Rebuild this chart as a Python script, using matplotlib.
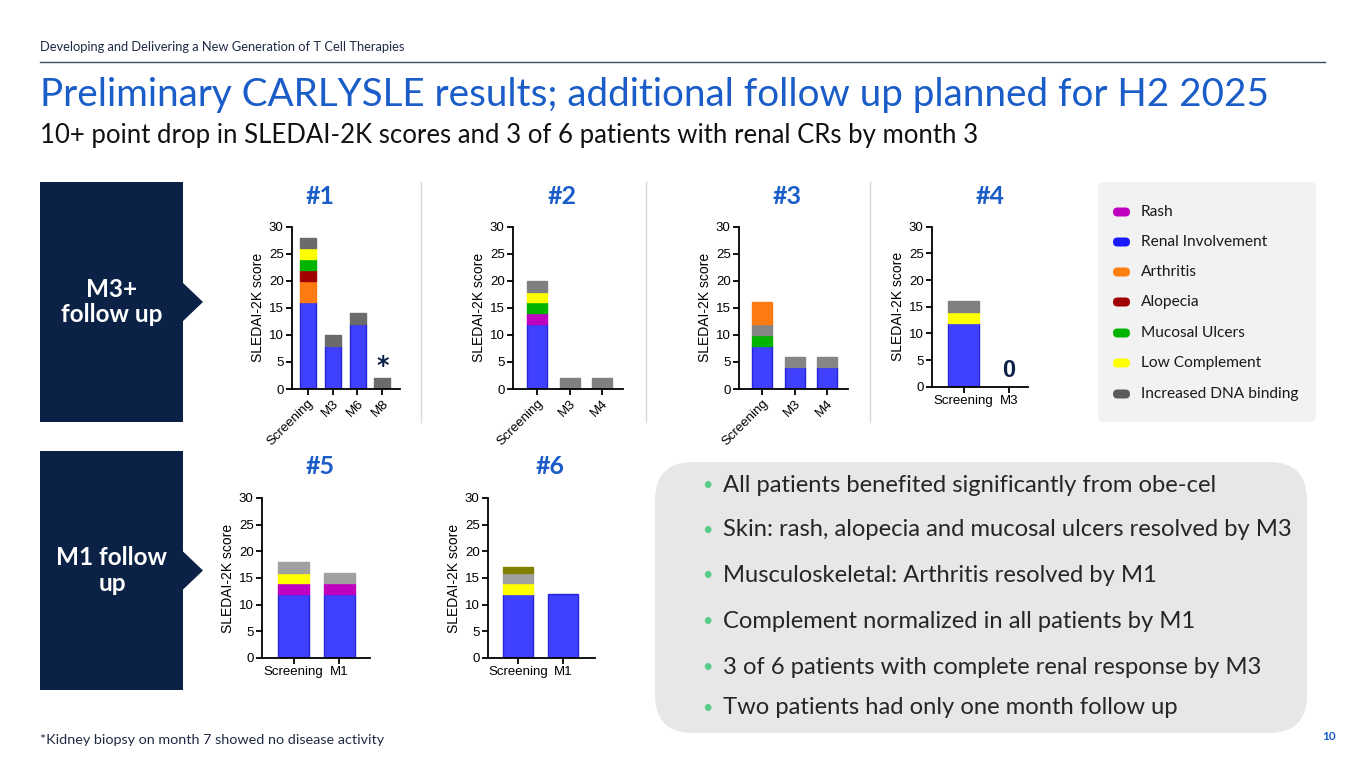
import matplotlib
matplotlib.use("Agg")
import matplotlib.pyplot as plt
from matplotlib.patches import FancyBboxPatch, Rectangle, Polygon

W, H = 1365, 768

# ---- data ----
categories = ["Rash", "Renal Involvement", "Arthritis", "Alopecia",
              "Mucosal Ulcers", "Low Complement", "Increased DNA binding"]
legend_colors = ["#c000c0", "#1a1aff", "#ff7f0e", "#a00000",
                 "#00b400", "#ffff00", "#5a5a5a"]

p1_time = ["Screening", "M3", "M6", "M8"]
p1_stack = [("Renal Involvement", [16, 8, 12, 0]),
            ("Arthritis", [4, 0, 0, 0]),
            ("Alopecia", [2, 0, 0, 0]),
            ("Mucosal Ulcers", [2, 0, 0, 0]),
            ("Low Complement", [2, 0, 0, 0]),
            ("Increased DNA binding", [2, 2, 2, 2])]

p2_time = ["Screening", "M3", "M4"]
p2_stack = [("Renal Involvement", [12, 0, 0]),
            ("Rash", [2, 0, 0]),
            ("Mucosal Ulcers", [2, 0, 0]),
            ("Low Complement", [2, 0, 0]),
            ("Increased DNA binding", [2, 2, 2])]

p3_time = ["Screening", "M3", "M4"]
p3_stack = [("Renal Involvement", [8, 4, 4]),
            ("Mucosal Ulcers", [2, 0, 0]),
            ("Increased DNA binding", [2, 2, 2]),
            ("Arthritis", [4, 0, 0])]

p4_time = ["Screening", "M3"]
p4_stack = [("Renal Involvement", [12, 0]),
            ("Low Complement", [2, 0]),
            ("Increased DNA binding", [2, 0])]

p5_time = ["Screening", "M1"]
p5_stack = [("Renal Involvement", [12, 12]),
            ("Rash", [2, 2]),
            ("Low Complement", [2, 0]),
            ("Increased DNA binding", [2, 2])]

p6_time = ["Screening", "M1"]
p6_stack = [("Renal Involvement", [12, 12]),
            ("Low Complement", [2, 0]),
            ("Increased DNA binding", [2, 0]),
            ("Other", [1, 0])]

bullets = ["All patients benefited significantly from obe-cel",
           "Skin: rash, alopecia and mucosal ulcers resolved by M3",
           "Musculoskeletal: Arthritis resolved by M1",
           "Complement normalized in all patients by M1",
           "3 of 6 patients with complete renal response by M3",
           "Two patients had only one month follow up"]

# ---- styling ----
plt.rcParams['font.family'] = ['Lato', 'DejaVu Sans']
NAVY = "#0b2145"
BLUE = "#1a5cc8"
bar_colors = {"Rash": "#c000c0", "Renal Involvement": "#4040ff",
              "Arthritis": "#ff7a10", "Alopecia": "#a00000",
              "Mucosal Ulcers": "#00b400", "Low Complement": "#ffff00",
              "Other": "#808000"}

fig = plt.figure(figsize=(W / 100, H / 100), dpi=100)
bg = fig.add_axes([0, 0, 1, 1])
bg.set_xlim(0, W)
bg.set_ylim(H, 0)
bg.axis("off")
renderer = fig.canvas.get_renderer()


def fit(t, width):
    bb = t.get_window_extent(renderer=renderer)
    t.set_fontsize(t.get_fontsize() * width / bb.width)
    return t.get_fontsize()


# header
fit(bg.text(40, 47, "Developing and Delivering a New Generation of T Cell Therapies",
            fontsize=10, color="#1f2b45", va="center"), 366)
bg.plot([40, 1325], [62, 62], color="#3b4b60", lw=1)
fit(bg.text(40, 95, "Preliminary CARLYSLE results; additional follow up planned for H2 2025",
            fontsize=28, color=BLUE, va="center"), 1228)
fit(bg.text(40, 135, "10+ point drop in SLEDAI-2K scores and 3 of 6 patients with renal CRs by month 3",
            fontsize=18, color="#111111", va="center"), 932)
fit(bg.text(40, 740, "*Kidney biopsy on month 7 showed no disease activity",
            fontsize=9, color="#1f2b45", va="center"), 345)
bg.text(1329, 737, "10", fontsize=8.5, color=BLUE, fontweight="bold",
        ha="center", va="center")

# navy section boxes with arrow notch
for (y0, y1, label) in [(182, 422, "M3+\nfollow up"), (451, 690, "M1 follow\nup")]:
    bg.add_patch(Rectangle((40, y0), 143, y1 - y0, color=NAVY, lw=0))
    mid = (y0 + y1) / 2
    bg.add_patch(Polygon([(182, mid - 20), (203, mid), (182, mid + 20)],
                         closed=True, color=NAVY, lw=0))
    bg.text(112, mid, label, color="white", fontsize=17.5, fontweight="bold",
            ha="center", va="center", linespacing=1.15)

# separators between top charts
for x in [421, 646, 870]:
    bg.plot([x, x], [182, 422], color="#d9d9d9", lw=1)

# legend panel
bg.add_patch(FancyBboxPatch((1098, 182), 218, 240, boxstyle="round,pad=0,rounding_size=6",
                            color="#f2f2f2", lw=0))
leg_y = [212, 242, 272, 302, 333, 363, 394]
leg_texts = []
for name, col, y in zip(categories, legend_colors, leg_y):
    bg.add_patch(FancyBboxPatch((1113, y - 4.5), 17, 9, boxstyle="round,pad=0,rounding_size=4.5",
                                color=col, lw=0))
    leg_texts.append(bg.text(1141, y, name, fontsize=11, color="#1a1a1a", va="center"))
leg_fs = fit(leg_texts[-1], 158)
for t in leg_texts:
    t.set_fontsize(leg_fs)

# bullets panel
bg.add_patch(FancyBboxPatch((655, 462), 652, 271, boxstyle="round,pad=0,rounding_size=38",
                            color="#e7e7e7", lw=0))
bul_y = [485, 530, 575, 621, 667, 708]
btexts = []
for s, y in zip(bullets, bul_y):
    bg.text(707, y, "\u2022", fontsize=13, color="#55cc88", ha="center", va="center")
    btexts.append(bg.text(723, y, s, fontsize=17, color="#262626", va="center"))
bfs = fit(btexts[1], 567)
for t in btexts:
    t.set_fontsize(bfs)

# patient titles
for s, x, y in [("#1", 320, 197), ("#2", 562, 197), ("#3", 787, 197),
                ("#4", 990, 197), ("#5", 320, 466), ("#6", 550, 466)]:
    bg.text(x, y, s, fontsize=18, fontweight="bold", color=BLUE, ha="center", va="center")


def chart(rect, time, stack, center0, spacing, bar_px, grey, rotate):
    x0, ytop, x1, ybot = rect
    ax = fig.add_axes([x0 / W, 1 - ybot / H, (x1 - x0) / W, (ybot - ytop) / H])
    ax.set_xlim((x0 - center0) / spacing, (x1 - center0) / spacing)
    ax.set_ylim(0, 30)
    xs = list(range(len(time)))
    bottom = [0] * len(time)
    for name, vals in stack:
        col = grey if name == "Increased DNA binding" else bar_colors[name]
        ec = "#2424d8" if name == "Renal Involvement" else col
        keep = [i for i, v in enumerate(vals) if v > 0]
        ax.bar([xs[i] for i in keep], [vals[i] for i in keep],
               bottom=[bottom[i] for i in keep], width=bar_px / spacing,
               color=col, edgecolor=ec, linewidth=1.0)
        bottom = [b + v for b, v in zip(bottom, vals)]
    ax.set_yticks([0, 5, 10, 15, 20, 25, 30])
    ax.set_xticks(xs)
    if rotate:
        ax.set_xticklabels(time, rotation=45, ha="right", rotation_mode="anchor")
    else:
        ax.set_xticklabels(time)
    for sp in ["top", "right"]:
        ax.spines[sp].set_visible(False)
    for sp in ["left", "bottom"]:
        ax.spines[sp].set_linewidth(1.3)
    ax.tick_params(labelsize=9.5, width=1.3, length=4, pad=2)
    for lab in ax.get_xticklabels() + ax.get_yticklabels():
        lab.set_family("Liberation Sans")
    ax.set_ylabel("SLEDAI-2K score", fontsize=10, family="Liberation Sans", labelpad=3)
    ax.patch.set_alpha(0)
    return ax


ax1 = chart((292, 226.7, 400, 389), p1_time, p1_stack, 307.5, 25, 16, "#6b6b6b", True)
ax1.text(3, 4.2, "*", fontsize=17, fontweight="bold", color=NAVY, ha="center", va="center",
         family="DejaVu Sans")
chart((513, 226.7, 623, 389), p2_time, p2_stack, 537, 32.5, 20, "#808080", True)
chart((739, 226.7, 848, 389), p3_time, p3_stack, 762, 32.5, 20, "#858585", True)
ax4 = chart((932, 226.7, 1028, 386.7), p4_time, p4_stack, 963.5, 45.5, 31, "#808080", False)
ax4.text(1, 3.1, "0", fontsize=17, fontweight="bold", color=NAVY, ha="center", va="center",
         family="Liberation Sans")
chart((262, 498, 370, 658), p5_time, p5_stack, 293.5, 45.5, 31, "#a0a0a0", False)
chart((488, 498, 595, 658), p6_time, p6_stack, 518, 45, 30, "#a0a0a0", False)

fig.savefig("out.png", dpi=100)
